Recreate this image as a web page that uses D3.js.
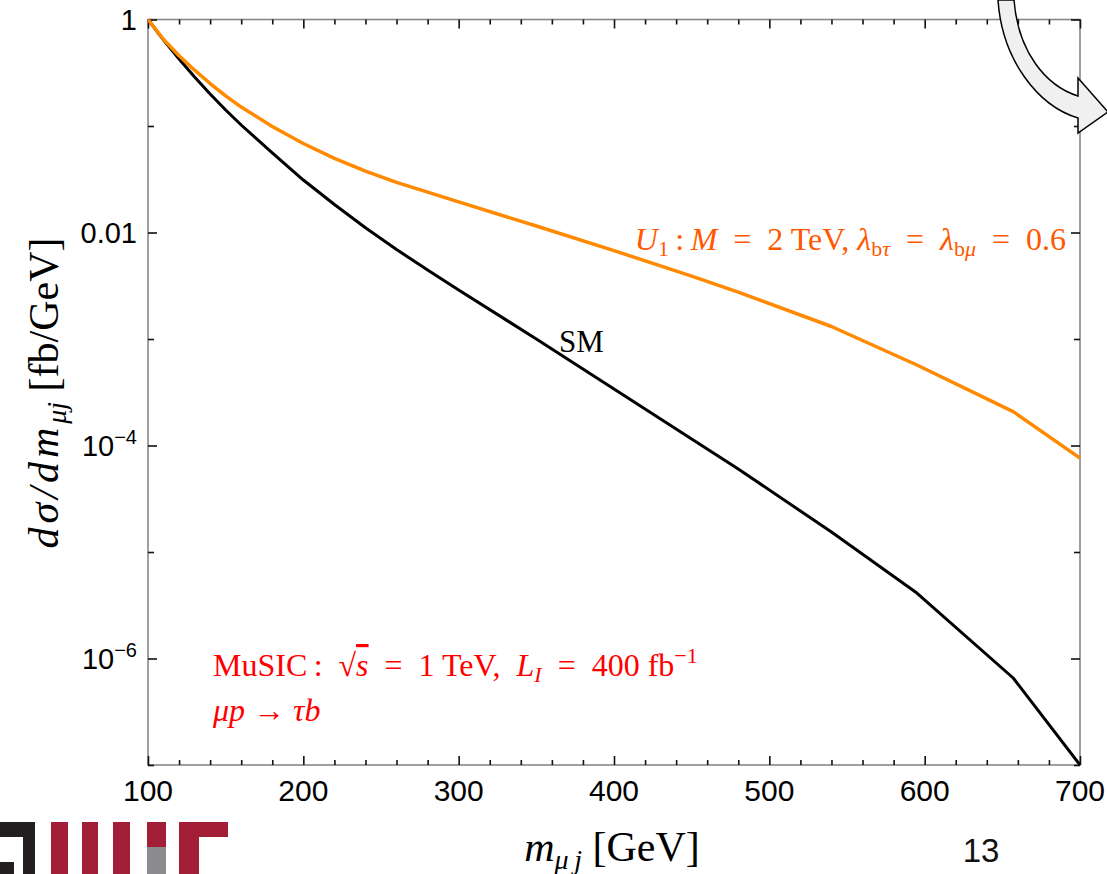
<!DOCTYPE html>
<html><head><meta charset="utf-8">
<script src="https://cdn.jsdelivr.net/npm/d3@7"></script>
<style>body{margin:0;background:#fff} svg{display:block}</style>
</head><body><svg id="c" width="1107" height="874"></svg>
<script>
// ---- data ----
const massGeV  = [100,110,120,130,140,150,160,180,200,220,240,260,280,300,350,400,450,480,540,595,657,700];
const smValues = [1.0,0.642,0.4257,0.2884,0.1998,0.1413,0.1022,0.0558,0.0311,0.0183,0.0111,0.00692,0.00445,0.002884,0.001000,3.39e-4,1.151e-4,6.02e-5,1.541e-5,4.12e-6,6.56e-7,1.0e-7];
const u1Values = [1.0,0.650,0.4571,0.3342,0.2506,0.1917,0.1505,0.0991,0.0685,0.0496,0.0377,0.0296,0.0239,0.01937,0.01151,0.00676,0.00389,0.00276,0.00131,5.70e-4,2.08e-4,7.63e-5];
const xMajorTicks = [100,200,300,400,500,600,700];
const xMinorTicks = [120,140,160,180,220,240,260,280,320,340,360,380,420,440,460,480,520,540,560,580,620,640,660,680];
const yMajorTicks = [1,1e-2,1e-4,1e-6];
const yMinorTicks = [1e-1,1e-3,1e-5,1e-7];
const yTickLabels = [["1",null],["0.01",null],["10","\u22124"],["10","\u22126"]];

const SERIF = "'Liberation Serif','Times New Roman',serif";
const SANS = "'Liberation Sans',Arial,sans-serif";

const svg = d3.select("#c");
const x = d3.scaleLinear().domain([100,700]).range([148,1080]);
const y = d3.scaleLog().domain([1e-7,1]).range([765,19.5]);

// frame
svg.append("rect").attr("x",x(100)).attr("y",y(1)).attr("width",x(700)-x(100)).attr("height",y(1e-7)-y(1))
  .attr("fill","none").attr("stroke","#888").attr("stroke-width",1.6);

function tickAxis(gen, vals, size, transform){
  const g = svg.append("g").attr("transform",transform)
    .call(gen.tickValues(vals).tickSize(size).tickFormat(""));
  g.select(".domain").remove();
  g.selectAll(".tick line").attr("stroke","#111").attr("stroke-width",1.6);
  return g;
}
tickAxis(d3.axisBottom(x), xMajorTicks, -9, `translate(0,${y(1e-7)})`);
tickAxis(d3.axisBottom(x), xMinorTicks, -5, `translate(0,${y(1e-7)})`);
tickAxis(d3.axisTop(x), xMajorTicks, -9, `translate(0,${y(1)})`);
tickAxis(d3.axisTop(x), xMinorTicks, -5, `translate(0,${y(1)})`);
tickAxis(d3.axisLeft(y), yMajorTicks, -9, `translate(${x(100)},0)`);
tickAxis(d3.axisLeft(y), yMinorTicks, -6, `translate(${x(100)},0)`);
tickAxis(d3.axisRight(y), yMajorTicks, -9, `translate(${x(700)},0)`);
tickAxis(d3.axisRight(y), yMinorTicks, -6, `translate(${x(700)},0)`);

// x tick labels
svg.append("g").selectAll("text").data(xMajorTicks).join("text")
  .attr("x",d=>x(d)).attr("y",801).attr("text-anchor","middle")
  .attr("font-family",SANS).attr("font-size",30).attr("fill","#000").text(d=>d);

// y tick labels
yMajorTicks.forEach((v,i)=>{
  const t = svg.append("text").attr("x",137).attr("y",y(v)+10.5).attr("text-anchor","end")
    .attr("font-family",SANS).attr("font-size",29).attr("fill","#000");
  const [base,exp] = yTickLabels[i];
  t.append("tspan").text(base);
  if(exp){ t.append("tspan").attr("dy",-12).attr("font-size",20).text(exp); }
});

// curves
const line = d3.line().x(d=>x(d[0])).y(d=>y(d[1]));
svg.append("defs").append("clipPath").attr("id","clip").append("rect")
  .attr("x",x(100)).attr("y",y(1)-2).attr("width",x(700)-x(100)).attr("height",y(1e-7)-y(1)+2);
svg.append("path").datum(massGeV.map((m,i)=>[m,smValues[i]])).attr("d",line)
  .attr("fill","none").attr("stroke","#000").attr("stroke-width",3).attr("stroke-linejoin","round").attr("clip-path","url(#clip)");
svg.append("path").datum(massGeV.map((m,i)=>[m,u1Values[i]])).attr("d",line)
  .attr("fill","none").attr("stroke","#ff8a00").attr("stroke-width",3.5).attr("stroke-linejoin","round").attr("clip-path","url(#clip)");

// SM label
svg.append("text").attr("x",559).attr("y",352).attr("font-family",SERIF).attr("font-size",31).attr("fill","#000").text("SM");

// U1 label
{
  const c="#ff5800";
  const t = svg.append("text").attr("x",1066).attr("y",250).attr("text-anchor","end")
    .attr("font-family",SERIF).attr("font-size",32).attr("fill",c);
  t.append("tspan").attr("font-style","italic").text("U");
  t.append("tspan").attr("font-size",22).attr("dy",6).text("1");
  t.append("tspan").attr("dy",-6).text("\u2009:\u2009");
  t.append("tspan").attr("font-style","italic").text("M");
  t.append("tspan").text("\u2002=\u20022 TeV, ");
  t.append("tspan").attr("font-style","italic").text("\u03bb");
  t.append("tspan").attr("font-size",22).attr("dy",6).text("b");
  t.append("tspan").attr("font-size",22).attr("font-style","italic").text("\u03c4");
  t.append("tspan").attr("dy",-6).text("\u2002=\u2002");
  t.append("tspan").attr("font-style","italic").text("\u03bb");
  t.append("tspan").attr("font-size",22).attr("dy",6).text("b");
  t.append("tspan").attr("font-size",22).attr("font-style","italic").text("\u03bc");
  t.append("tspan").attr("dy",-6).text("\u2002=\u20020.6");
}

// MuSIC label
{
  const c="#ff0000";
  const t = svg.append("text").attr("x",213).attr("y",676).attr("font-family",SERIF).attr("font-size",32).attr("fill",c);
  t.append("tspan").text("MuSIC\u2009:\u2002\u221a");
  t.append("tspan").attr("font-style","italic").attr("text-decoration","overline").text("s");
  t.append("tspan").text("\u2002=\u20021 TeV,\u2002");
  t.append("tspan").attr("font-style","italic").text("L");
  t.append("tspan").attr("font-style","italic").attr("font-size",22).attr("dy",6).text("I");
  t.append("tspan").attr("dy",-6).text("\u2002=\u2002400 fb");
  t.append("tspan").attr("font-size",22).attr("dy",-13).text("\u22121");
  const t2 = svg.append("text").attr("x",213).attr("y",721).attr("font-family",SERIF).attr("font-size",32).attr("fill",c);
  t2.append("tspan").attr("font-style","italic").text("\u03bcp");
  t2.append("tspan").text(" \u2192 ");
  t2.append("tspan").attr("font-style","italic").text("\u03c4b");
}

// axis titles
{
  const t = svg.append("text").attr("transform","translate(58,393) rotate(-90)").attr("text-anchor","middle")
    .attr("font-family",SERIF).attr("font-size",42).attr("fill","#000");
  t.append("tspan").attr("font-style","italic").attr("letter-spacing",4).text("d\u03c3/dm");
  t.append("tspan").attr("font-style","italic").attr("font-size",28).attr("dy",8).text("\u03bcj");
  t.append("tspan").attr("dy",-8).text(" [fb/GeV]");
  const t2 = svg.append("text").attr("x",612).attr("y",861).attr("text-anchor","middle")
    .attr("font-family",SERIF).attr("font-size",42).attr("fill","#000");
  t2.append("tspan").attr("font-style","italic").text("m");
  t2.append("tspan").attr("font-style","italic").attr("font-size",28).attr("dy",8).text("\u03bc\u2009j");
  t2.append("tspan").attr("dy",-8).text(" [GeV]");
}

// page number
svg.append("text").attr("x",981).attr("y",862).attr("text-anchor","middle").attr("font-family",SANS)
  .attr("font-size",33).attr("fill","#111").text("13");

// logo (partial, bottom-left)
{
  const g = svg.append("g");
  const red="#a31f37", blk="#231f20", gry="#8a8b8c";
  g.append("rect").attr("x",0).attr("y",822).attr("width",35).attr("height",15).attr("fill",blk);
  g.append("rect").attr("x",23).attr("y",822).attr("width",12).attr("height",52).attr("fill",blk);
  g.append("rect").attr("x",0).attr("y",862).attr("width",14).attr("height",12).attr("fill",blk);
  g.append("rect").attr("x",51).attr("y",822).attr("width",17).attr("height",52).attr("fill",red);
  g.append("rect").attr("x",82).attr("y",822).attr("width",16).attr("height",52).attr("fill",red);
  g.append("rect").attr("x",113).attr("y",822).attr("width",17).attr("height",52).attr("fill",red);
  g.append("rect").attr("x",147).attr("y",822).attr("width",19).attr("height",25).attr("fill",red);
  g.append("rect").attr("x",147).attr("y",847).attr("width",19).attr("height",27).attr("fill",gry);
  g.append("rect").attr("x",179).attr("y",822).attr("width",49).attr("height",15).attr("fill",red);
  g.append("rect").attr("x",179).attr("y",837).attr("width",20).attr("height",37).attr("fill",red);
}

// curved arrow (top-right)
svg.append("path")
  .attr("d","M998,0 C1002,60 1038,106 1078,118 L1078,133 L1108,112 L1078,78 L1078,96 C1046,86 1018,52 1014,0 Z")
  .attr("fill","#f0f0f0").attr("stroke","#000").attr("stroke-width",1.5);
</script></body></html>
